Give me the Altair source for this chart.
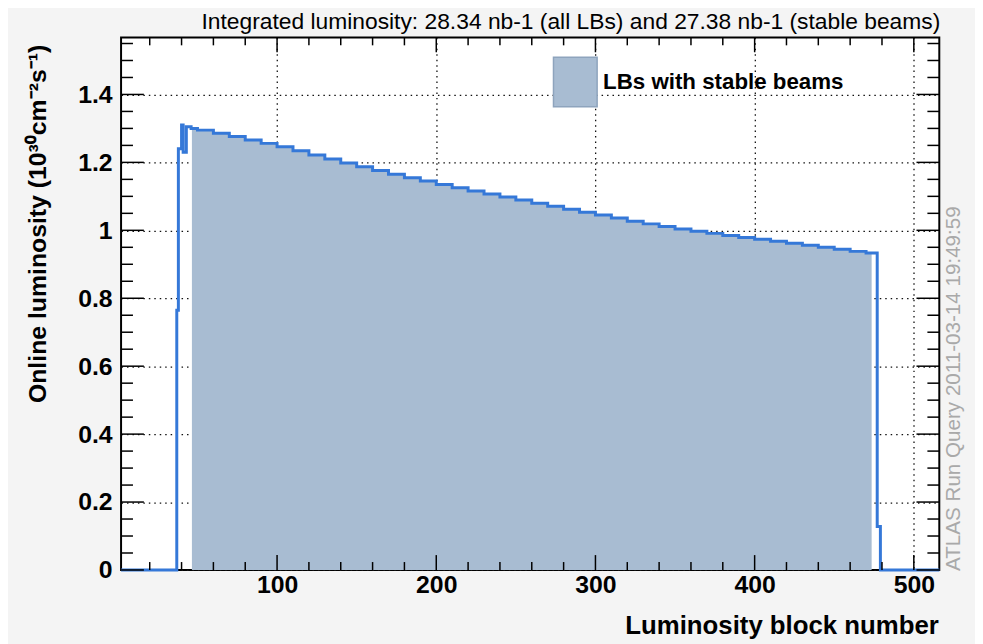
import altair as alt
import pandas as pd

# ---------------- data ----------------
# step histogram: value holds from each edge until the next edge
lb_edges = [2, 37, 38, 40, 41, 43, 46, 50, 60, 70, 80, 90, 100, 110, 120, 130,
            140, 150, 160, 170, 180, 190, 200, 210, 220, 230, 240, 250, 260,
            270, 280, 290, 300, 310, 320, 330, 340, 350, 360, 370, 380, 390,
            400, 410, 420, 430, 440, 450, 460, 470, 477, 479, 516]
lumi = [0.0, 0.765, 1.24, 1.31, 1.23, 1.305, 1.30, 1.295, 1.286, 1.276, 1.266,
        1.256, 1.246, 1.234, 1.222, 1.21, 1.198, 1.187, 1.176, 1.165, 1.155,
        1.145, 1.135, 1.125, 1.116, 1.107, 1.098, 1.089, 1.08, 1.071, 1.062,
        1.053, 1.045, 1.036, 1.027, 1.019, 1.011, 1.004, 0.997, 0.991, 0.985,
        0.979, 0.974, 0.968, 0.962, 0.956, 0.95, 0.944, 0.938, 0.933, 0.128,
        0.0, 0.0]
stable_start = 46.5
stable_end = 473.5

x_major = [100, 200, 300, 400, 500]
x_minor = [20, 40, 60, 80, 120, 140, 160, 180, 220, 240, 260, 280, 320, 340,
           360, 380, 420, 440, 460, 480]
y_major = [0, 0.2, 0.4, 0.6, 0.8, 1.0, 1.2, 1.4]
y_minor = [0.05, 0.1, 0.15, 0.25, 0.3, 0.35, 0.45, 0.5, 0.55, 0.65, 0.7, 0.75,
           0.85, 0.9, 0.95, 1.05, 1.1, 1.15, 1.25, 1.3, 1.35, 1.45, 1.5, 1.55]

title_text = "Integrated luminosity: 28.34 nb-1 (all LBs) and 27.38 nb-1 (stable beams)"
legend_label = "LBs with stable beams"
x_title = "Luminosity block number"
y_title = "Online luminosity (10³⁰cm⁻²s⁻¹)"
stamp_text = "ATLAS Run Query 2011-03-14 19:49:59"

# ---------------- styling ----------------
W, H = 825, 537
FONT = "Liberation Sans"
LINE_COLOR = "#3578d8"
FILL_COLOR = "#a8bcd2"
FILL_EDGE = "#8ea4bd"

line_df = pd.DataFrame({"lb": lb_edges, "lumi": lumi})


def value_at(x):
    v = lumi[0]
    for e, l in zip(lb_edges, lumi):
        if e <= x:
            v = l
    return v


area_pts = ([(stable_start, value_at(stable_start))]
            + [(e, l) for e, l in zip(lb_edges, lumi) if stable_start < e < stable_end]
            + [(stable_end, value_at(stable_end))])
area_df = pd.DataFrame(area_pts, columns=["lb", "lumi"])

xs = alt.Scale(domain=[2, 516], nice=False, zero=False)
ys = alt.Scale(domain=[0, 1.568], nice=False, zero=False)

grid_style = dict(grid=True, gridDash=[1.5, 4], gridColor="#111111", gridWidth=1.3,
                  ticks=False, domain=False, labelFont=FONT, labelFontSize=25,
                  labelFontWeight="bold", labelColor="black", labelFlush=False,
                  labelOverlap=False, titleFont=FONT, titleFontWeight="bold",
                  titleColor="black")

x_axis = alt.Axis(values=x_major, labelPadding=3, title=x_title, titleFontSize=26,
                  titleAlign="right", titleAnchor="end", titleBaseline="middle",
                  titleX=824, titleY=56, **grid_style)
y_axis = alt.Axis(values=y_major, format="~g", labelPadding=9, title=y_title,
                  titleFontSize=25, titleAngle=270, titleAlign="right",
                  titleBaseline="middle", titleX=-84, titleY=7, **grid_style)

area = alt.Chart(area_df).mark_area(interpolate="step-after", color=FILL_COLOR).encode(
    x=alt.X("lb:Q", scale=xs, axis=x_axis),
    y=alt.Y("lumi:Q", scale=ys, axis=y_axis),
)

line = alt.Chart(line_df).mark_line(interpolate="step-after", color=LINE_COLOR,
                                    strokeWidth=3).encode(
    x=alt.X("lb:Q", scale=xs, axis=x_axis),
    y=alt.Y("lumi:Q", scale=ys, axis=y_axis),
)


def xticks(vals, length, top):
    df = pd.DataFrame({"lb": vals})
    if top:
        yy, yy2 = alt.value(0), alt.value(length)
    else:
        yy, yy2 = alt.value(H), alt.value(H - length)
    return alt.Chart(df).mark_rule(color="black", strokeWidth=1.5).encode(
        x=alt.X("lb:Q", scale=xs, axis=x_axis), y=yy, y2=yy2)


def yticks(vals, length, right):
    df = pd.DataFrame({"lumi": vals})
    if right:
        xx, xx2 = alt.value(W), alt.value(W - length)
    else:
        xx, xx2 = alt.value(0), alt.value(length)
    return alt.Chart(df).mark_rule(color="black", strokeWidth=1.5).encode(
        y=alt.Y("lumi:Q", scale=ys, axis=y_axis), x=xx, x2=xx2)


ticks = [
    xticks(x_major, 15, False), xticks(x_minor, 8, False),
    xticks(x_major, 15, True), xticks(x_minor, 8, True),
    yticks(y_major, 23, False), yticks(y_minor, 12, False),
    yticks(y_major, 23, True), yticks(y_minor, 12, True),
]

one = pd.DataFrame({"k": [0]})

legend_box = alt.Chart(one).mark_rect(fill=FILL_COLOR, stroke=FILL_EDGE,
                                      strokeWidth=1.5).encode(
    x=alt.value(436), x2=alt.value(480), y=alt.value(20), y2=alt.value(70))
legend_text = alt.Chart(one).mark_text(text=legend_label, font=FONT, fontSize=22.5,
                                       fontWeight="bold", align="left",
                                       baseline="middle", color="black").encode(
    x=alt.value(486), y=alt.value(45))

title = alt.Chart(one).mark_text(text=title_text, font=FONT, fontSize=23,
                                 align="right", baseline="alphabetic",
                                 color="black").encode(
    x=alt.value(826), y=alt.value(-8))

stamp = alt.Chart(one).mark_text(text=stamp_text, font=FONT, fontSize=20.8, angle=270,
                                 align="left", baseline="middle",
                                 color="#a9a9a9").encode(
    x=alt.value(840), y=alt.value(538))

chart = alt.layer(area, line, *ticks, legend_box, legend_text, title, stamp).properties(
    width=W, height=H,
    autosize=alt.AutoSizeParams(type="none"),
    padding={"left": 114, "top": 27, "right": 36, "bottom": 72},
).configure(background="#f4f4f4").configure_view(stroke="black", strokeWidth=2,
                                                 fill="white")

chart.save("out.html", embed_options={"renderer": "svg", "actions": False})
